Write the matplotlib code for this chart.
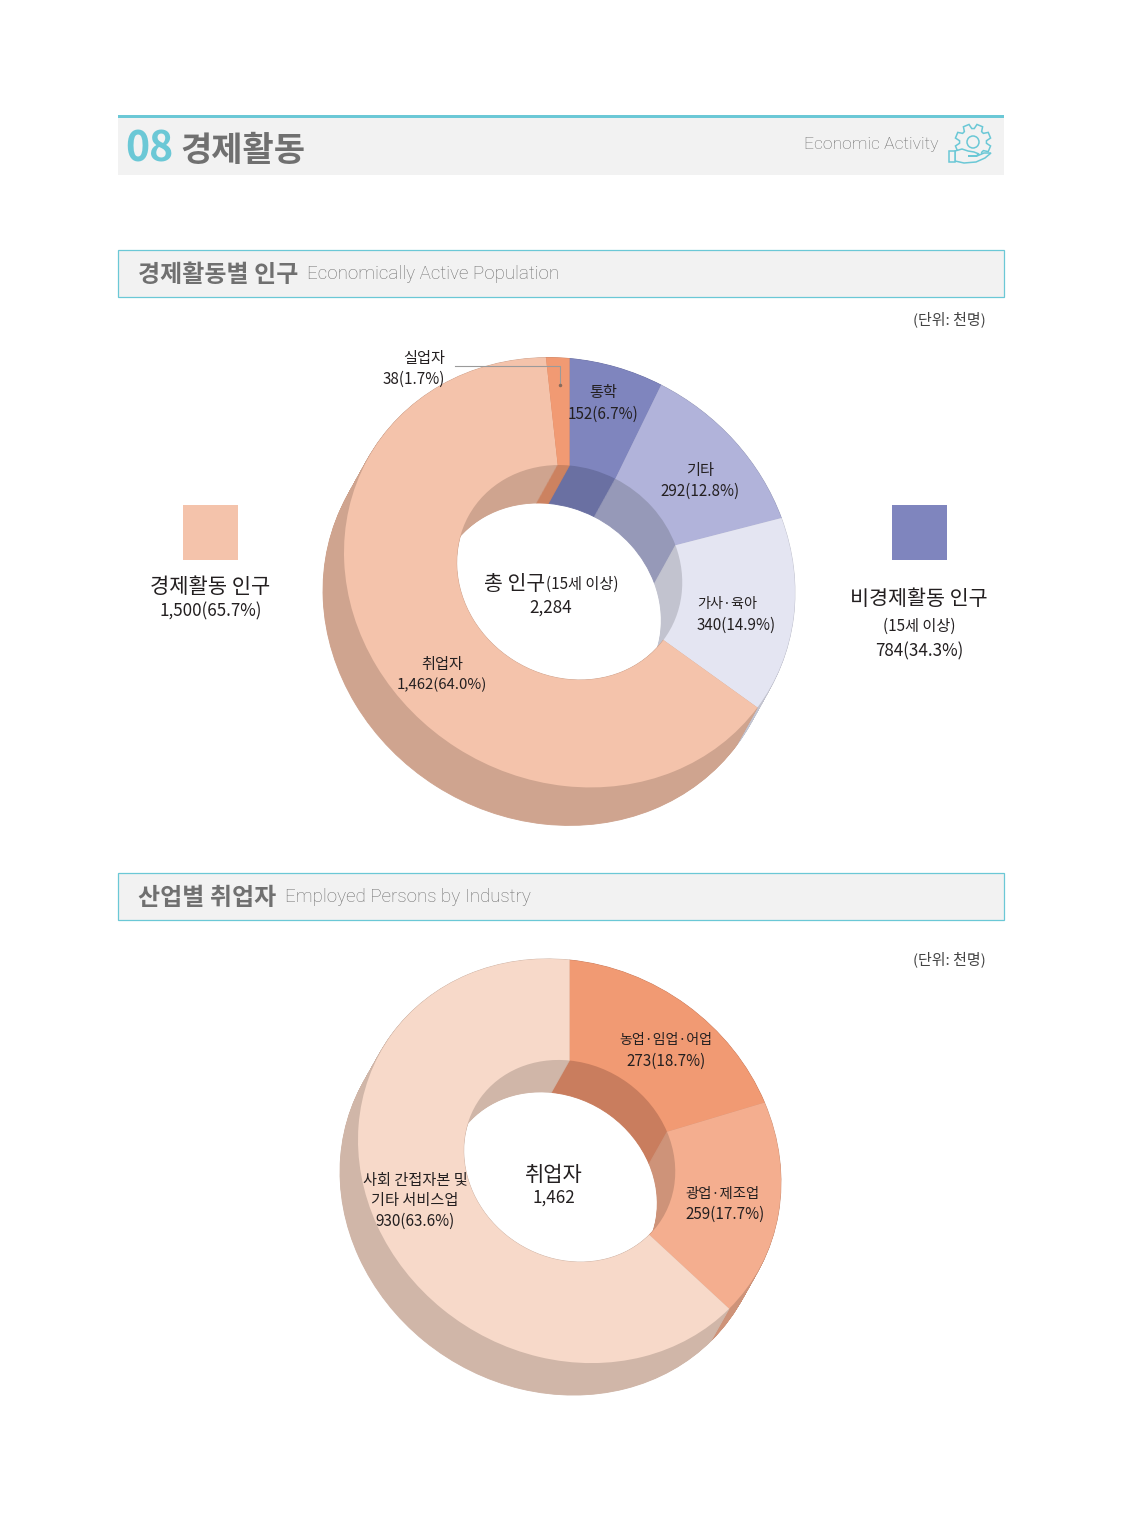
import numpy as np
import matplotlib
matplotlib.use('Agg')
import matplotlib.pyplot as plt
from matplotlib.patches import Rectangle, Polygon, Circle
from matplotlib.transforms import Affine2D

plt.rcParams['font.family'] = ['Noto Sans CJK KR', 'DejaVu Sans']

# 경제활동별 인구 (thousand persons), clockwise from the top
population_labels = ['통학', '기타', '가사·육아', '취업자', '실업자']
population_values = [152, 292, 340, 1462, 38]
population_colors = ['#7F85BE', '#B1B3DA', '#E4E5F2', '#F4C3AB', '#F19A73']
population_walls = ['#6A70A2', '#9699B8', '#C2C3CF', '#CFA48F', '#CC8260']

# 산업별 취업자 (thousand persons), clockwise from the top
industry_labels = ['농업·임업·어업', '광업·제조업', '사회 간접자본 및 기타 서비스업']
industry_values = [273, 259, 930]
industry_colors = ['#F19A73', '#F4AE8F', '#F7D9C9']
industry_walls = ['#C97D5E', '#CE9379', '#D0B6A8']

TEAL = '#6BC8D6'
PANEL = '#F2F2F2'
GREY = '#707070'
INK = '#231F20'
LIGHT_FONT = ['Roboto', 'DejaVu Sans']


def px(size):
    # font size given in image pixels
    return size * 0.72


def put(ax, x, y, s, size, color=INK, ha='center', **kw):
    ax.text(x, y + 1, s, fontsize=px(size), color=color, ha=ha, va='center', **kw)


def ring(ax, values, colors, matrix, lw=0.0):
    wedges, texts = ax.pie(values, colors=colors, startangle=90, counterclock=False,
                           radius=1.0, frame=True, wedgeprops={'width': 0.5})
    for t in texts:
        t.remove()
    for w, c in zip(wedges, colors):
        w.set_transform(Affine2D(matrix) + ax.transData)
        w.set_edgecolor(c)
        w.set_linewidth(lw)


def donut(ax, values, colors, walls, cx, cy, rx, ry, skew, depth_x, depth_y):
    # the side wall is swept from the far face up to the near face
    for t in np.linspace(1, 0, 48):
        m = [[rx, 0, cx + depth_x * t], [skew, -ry, cy + depth_y * t], [0, 0, 1]]
        ring(ax, values, walls, np.array(m, dtype=float), lw=0.6)
    m = [[rx, 0, cx], [skew, -ry, cy], [0, 0, 1]]
    ring(ax, values, colors, np.array(m, dtype=float))


def section_box(ax, y, title, subtitle, sub_x):
    ax.add_patch(Rectangle((118, y), 886, 47, facecolor=PANEL, edgecolor=TEAL, lw=0.9))
    put(ax, 138, y + 24, title, 24, color=GREY, ha='left', fontweight='bold')
    put(ax, sub_x, y + 23, subtitle, 18.8, color='#6E6E6E', ha='left',
        family=LIGHT_FONT, fontweight='light')


def gear_icon(ax, cx, cy):
    angles = np.deg2rad(np.arange(0, 360, 45) + 22.5)
    pts = []
    for a in angles:
        for da, r in [(-0.30, 13.5), (-0.17, 18), (0.17, 18), (0.30, 13.5)]:
            pts.append((cx + r * np.cos(a + da), cy + r * np.sin(a + da)))
    ax.add_patch(Polygon(pts, closed=True, fill=True, facecolor=PANEL, edgecolor=TEAL, lw=1.1))
    ax.add_patch(Circle((cx, cy), 6, fill=False, edgecolor=TEAL, lw=1.1))
    # open palm under the gear
    hand = [(955, 151), (962, 149), (968, 151), (974, 152), (979, 154), (976, 156), (968, 156)]
    palm = [(955, 161), (964, 163), (976, 162), (985, 158), (991, 153), (984, 153), (977, 156)]
    ax.add_patch(Polygon(hand + palm[::-1], closed=True, facecolor=PANEL, edgecolor=TEAL, lw=1.1))
    ax.add_patch(Rectangle((949, 151), 6, 11, facecolor=PANEL, edgecolor=TEAL, lw=1.1))


fig = plt.figure(figsize=(11.23, 15.36), dpi=100)
ax = fig.add_axes([0, 0, 1, 1])

# page header
ax.add_patch(Rectangle((118, 115), 886, 60, facecolor=PANEL, edgecolor='none'))
ax.add_patch(Rectangle((118, 115), 886, 3, facecolor=TEAL, edgecolor='none'))
put(ax, 125, 149, '08', 41, color=TEAL, ha='left', fontweight='bold')
put(ax, 180, 149, '경제활동', 34, color=GREY, ha='left', fontweight='bold')
put(ax, 938, 144, 'Economic Activity', 17.5, color='#6E6E6E', ha='right',
    family=LIGHT_FONT, fontweight='light')
gear_icon(ax, 973, 142)

section_box(ax, 250, '경제활동별 인구', 'Economically Active Population', 307)
put(ax, 986, 318, '(단위: 천명)', 15, color='#444444', ha='right')

# first donut
donut(ax, population_values, population_colors, population_walls,
      569.5, 572.5, 225.5, 214, 20, -21, 38)

# leader line for the small slice
ax.plot([455, 559.5, 559.5], [366, 366, 385], color='#9A9A9A', lw=0.8)
ax.plot([559.5], [385], marker='o', ms=1.5, color='#8A6A5A')

put(ax, 445, 357, population_labels[4], 15.2, ha='right')
put(ax, 445, 378, '38(1.7%)', 15.2, ha='right')
put(ax, 603, 392, population_labels[0], 15.2)
put(ax, 603, 413, '152(6.7%)', 15.2)
put(ax, 700, 469, population_labels[1], 15.2)
put(ax, 700, 490, '292(12.8%)', 15.2)
put(ax, 697, 603, population_labels[2], 14.2, ha='left')
put(ax, 697, 624, '340(14.9%)', 15.2, ha='left')
put(ax, 442, 664, population_labels[3], 15.2)
put(ax, 442, 684, '1,462(64.0%)', 15)

put(ax, 484, 583, '총 인구', 20.5, ha='left')
put(ax, 546, 583, '(15세 이상)', 15.2, ha='left')
put(ax, 551, 607, '2,284', 17)

# side legends
ax.add_patch(Rectangle((183, 505), 55, 55, facecolor=population_colors[3], edgecolor='none'))
put(ax, 210, 586, '경제활동 인구', 21)
put(ax, 211, 610, '1,500(65.7%)', 17)
ax.add_patch(Rectangle((892, 505), 55, 55, facecolor=population_colors[0], edgecolor='none'))
put(ax, 919, 598, '비경제활동 인구', 20.7)
put(ax, 919, 625, '(15세 이상)', 15.2)
put(ax, 919, 650, '784(34.3%)', 17)

section_box(ax, 873, '산업별 취업자', 'Employed Persons by Industry', 285)
put(ax, 986, 958, '(단위: 천명)', 15, color='#444444', ha='right')

# second donut
donut(ax, industry_values, industry_colors, industry_walls,
      569.5, 1161, 211.5, 201, 21, -18, 32)

put(ax, 666, 1039, industry_labels[0], 14)
put(ax, 666, 1060, '273(18.7%)', 15.2)
put(ax, 723, 1193, industry_labels[1], 14.4)
put(ax, 725, 1213, '259(17.7%)', 15.2)
put(ax, 415, 1179, '사회 간접자본 및', 15.2)
put(ax, 415, 1199, '기타 서비스업', 15.2)
put(ax, 415, 1220, '930(63.6%)', 15.2)

put(ax, 553, 1174, '취업자', 21)
put(ax, 554, 1197, '1,462', 17)

ax.set_aspect('auto')
ax.set_xlim(0, 1123)
ax.set_ylim(1536, 0)
ax.axis('off')

fig.savefig('out.png', dpi=100, facecolor='white')
